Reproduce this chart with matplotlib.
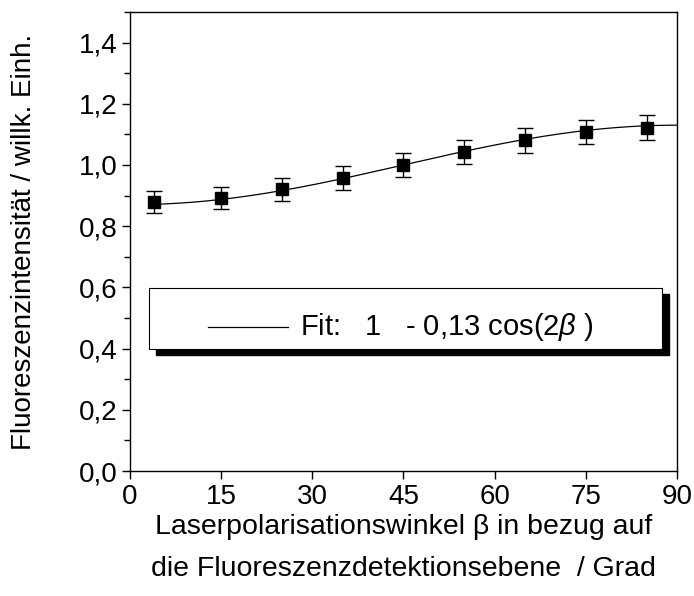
import numpy as np
import matplotlib
matplotlib.use("Agg")
import matplotlib.pyplot as plt
from matplotlib.patches import Rectangle
from matplotlib.ticker import MultipleLocator, FuncFormatter

plt.rcParams["font.family"] = ["Liberation Sans", "DejaVu Sans"]
plt.rcParams["mathtext.fontset"] = "custom"
plt.rcParams["mathtext.rm"] = "Liberation Sans"
plt.rcParams["mathtext.it"] = "Liberation Sans:italic"

# measured data
angles = [4, 15, 25, 35, 45, 55, 65, 75, 85]
intensity = [0.878, 0.892, 0.920, 0.957, 1.000, 1.041, 1.080, 1.108, 1.122]
errors = [0.036, 0.037, 0.037, 0.038, 0.038, 0.039, 0.041, 0.040, 0.041]

# fit parameters: I = A - B cos(2 beta)
fit_offset = 1.0
fit_amp = 0.13

x_ticks = [0, 15, 30, 45, 60, 75, 90]

FONT = 20

fig = plt.figure(figsize=(6.94, 5.96), dpi=100)
ax = fig.add_axes([0.1873, 0.2097, 0.7882, 0.7703])

beta = np.linspace(angles[0], 90, 200)
ax.plot(beta, fit_offset - fit_amp * np.cos(np.radians(2 * beta)),
        color="black", linewidth=0.9, zorder=2)
ax.errorbar(angles, intensity, yerr=errors, fmt="s", color="black",
            markersize=8.5, elinewidth=1.0, capsize=6, capthick=1.0, zorder=3)

ax.set_xlim(0, 90)
ax.set_ylim(0, 1.5)
ax.set_xticks(x_ticks)
ax.yaxis.set_major_locator(MultipleLocator(0.2))
ax.yaxis.set_minor_locator(MultipleLocator(0.1))
ax.yaxis.set_major_formatter(FuncFormatter(lambda v, p: f"{v:.1f}".replace(".", ",")))
ax.tick_params(axis="both", which="both", direction="out", labelsize=FONT,
               width=1.0, top=False, right=False)
ax.tick_params(axis="both", which="major", length=6, pad=3)
ax.tick_params(axis="y", which="minor", length=4)
for s in ax.spines.values():
    s.set_linewidth(1.0)

ax.set_ylabel("Fluoreszenzintensität / willk. Einh.", fontsize=FONT, labelpad=30)
ax.set_xlabel("Laserpolarisationswinkel β in bezug auf\ndie Fluoreszenzdetektionsebene  / Grad",
              fontsize=20.5, labelpad=3, linespacing=1.8)

# legend box with solid shadow
bx0, by0, bw, bh = 0.0347, 0.266, 0.938, 0.133
dx, dy = 0.012, -0.013
ax.add_patch(Rectangle((bx0 + dx, by0 + dy), bw, bh, transform=ax.transAxes,
                       facecolor="black", edgecolor="black", zorder=4))
ax.add_patch(Rectangle((bx0, by0), bw, bh, transform=ax.transAxes,
                       facecolor="white", edgecolor="black", linewidth=0.8, zorder=5))
ly = by0 + bh * 0.36
ax.plot([0.1426, 0.2888], [ly, ly], transform=ax.transAxes, color="black",
        linewidth=0.9, zorder=6)
ax.text(0.31, ly, r"Fit:   1   - 0,13 cos(2$\it{\beta}$ )", transform=ax.transAxes,
        fontsize=21, va="center", ha="left", zorder=6)

fig.savefig("out.png", dpi=100)
